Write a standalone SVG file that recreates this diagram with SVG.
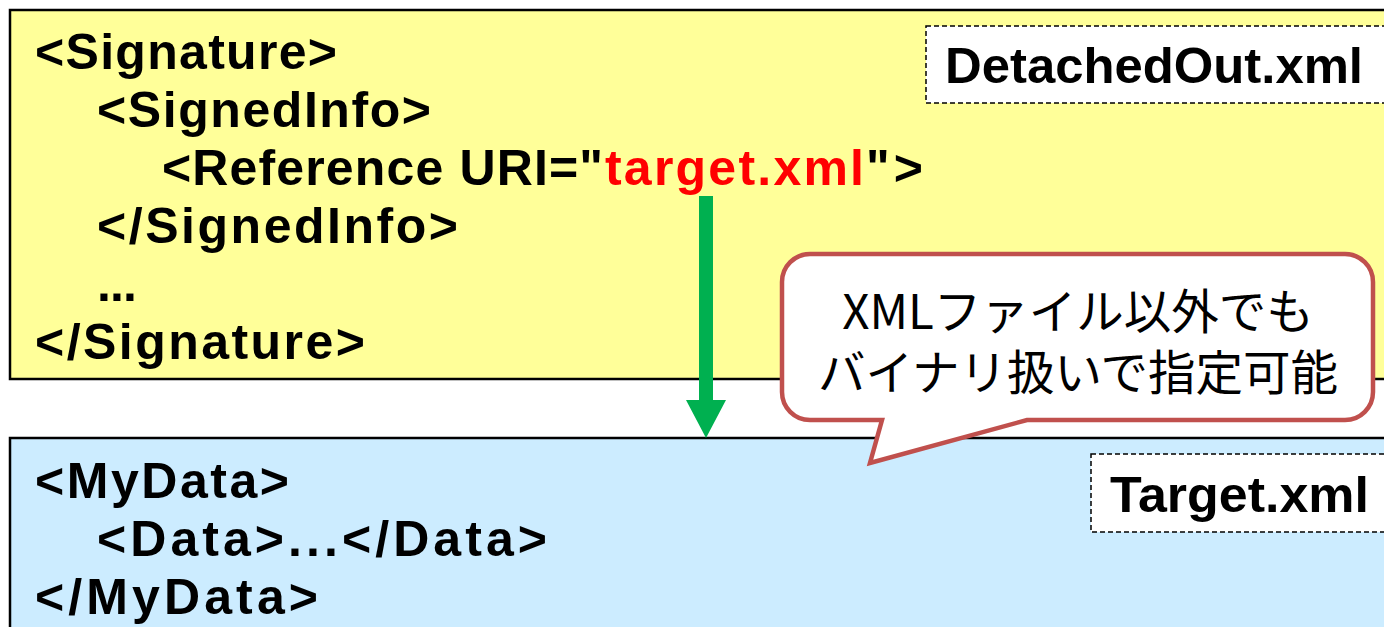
<svg xmlns="http://www.w3.org/2000/svg" width="1384" height="627" viewBox="0 0 1384 627">
<style>
.code{font-family:"Liberation Sans",Arial,sans-serif;font-weight:bold;font-size:50px;fill:#000}
.red{fill:#FF0000}
.box{stroke:#000;stroke-width:2.5}
.tag{fill:#fff;stroke:#000;stroke-width:1.5;stroke-dasharray:5 3}
.callout{font-family:"Noto Sans CJK JP","Noto Sans",sans-serif;font-size:47.5px;fill:#000;text-anchor:middle}
</style>
<rect width="1384" height="627" fill="#fff"/>
<g id="detached">
<rect class="box" x="10" y="10" width="1400" height="369" fill="#FFFF99"/>
<rect class="tag" x="926" y="26" width="480" height="77"/>
<text class="code" x="945" y="83" font-size="48" textLength="418" lengthAdjust="spacingAndGlyphs">DetachedOut.xml</text>
<text class="code" x="35" y="69" textLength="302" lengthAdjust="spacing">&lt;Signature&gt;</text>
<text class="code" x="97" y="127" textLength="334" lengthAdjust="spacing">&lt;SignedInfo&gt;</text>
<text class="code" x="162" y="185" textLength="441" lengthAdjust="spacing">&lt;Reference URI="</text>
<text class="code red" x="605" y="185" textLength="259" lengthAdjust="spacing">target.xml</text>
<text class="code" x="866" y="185" textLength="57" lengthAdjust="spacing">"&gt;</text>
<text class="code" x="97" y="243" textLength="361" lengthAdjust="spacing">&lt;/SignedInfo&gt;</text>
<text class="code" x="97" y="301" textLength="40" lengthAdjust="spacing">...</text>
<text class="code" x="35" y="359" textLength="330" lengthAdjust="spacing">&lt;/Signature&gt;</text>
</g>
<g id="target">
<rect class="box" x="10" y="438" width="1400" height="220" fill="#CCECFF"/>
<rect class="tag" x="1091" y="454" width="320" height="78"/>
<text class="code" x="1110" y="512" font-size="48" textLength="259" lengthAdjust="spacingAndGlyphs">Target.xml</text>
<text class="code" x="35" y="498" textLength="254" lengthAdjust="spacing">&lt;MyData&gt;</text>
<text class="code" x="97" y="556" textLength="450" lengthAdjust="spacing">&lt;Data&gt;...&lt;/Data&gt;</text>
<text class="code" x="35" y="614" textLength="283" lengthAdjust="spacing">&lt;/MyData&gt;</text>
</g>
<g id="connectors">
<polygon points="699,196 713,196 713,400 726,400 706,438 686,400 699,400" fill="#00B050"/>
</g>
<g id="callout">
<path d="M810,254 H1345 A28,28 0 0 1 1373,282 V392 A28,28 0 0 1 1345,420 H1027 L870,463 L882,420 H810 A28,28 0 0 1 782,392 V282 A28,28 0 0 1 810,254 Z" fill="#fff" stroke="#C0504D" stroke-width="4.5"/>
<text class="callout" x="1078" y="329">XMLファイル以外でも</text>
<text class="callout" x="1078" y="390">バイナリ扱いで指定可能</text>
</g>
</svg>
